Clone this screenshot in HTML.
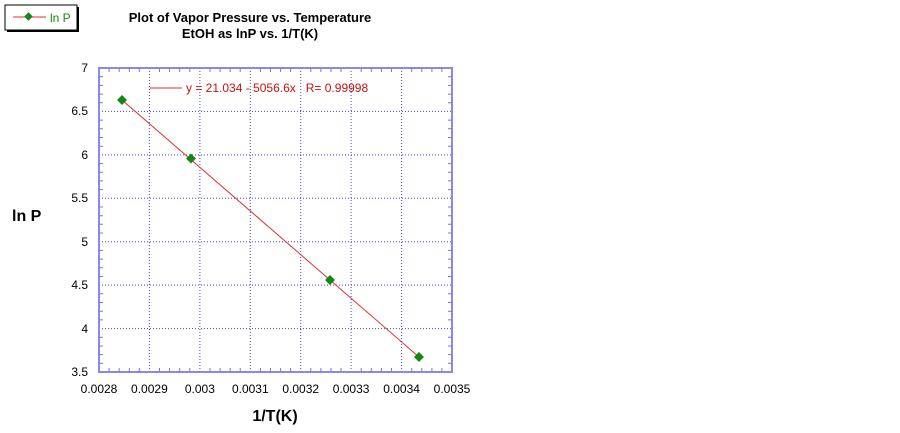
<!DOCTYPE html>
<html><head><style>
html,body{margin:0;padding:0;background:#fff;}
svg{display:block;font-family:"Liberation Sans",Arial,sans-serif;}
</style></head><body>
<svg width="900" height="433" viewBox="0 0 900 433" xmlns="http://www.w3.org/2000/svg">
<rect x="0" y="0" width="900" height="433" fill="#fff"/>
<rect x="7" y="7" width="72" height="25" fill="#000"/>
<rect x="5" y="5" width="72" height="25" fill="#fff" stroke="#000" stroke-width="1"/>
<line x1="13" y1="17" x2="46" y2="17" stroke="#e03030" stroke-width="1"/>
<rect x="25.5" y="13.5" width="6" height="6" fill="#118811" transform="rotate(45 28.5 16.5)"/>
<text x="50" y="22" font-size="12" fill="#118811">ln P</text>
<text x="250" y="22" font-size="13" font-weight="bold" text-anchor="middle">Plot of Vapor Pressure vs. Temperature</text>
<text x="250" y="38" font-size="13" font-weight="bold" text-anchor="middle">EtOH as lnP vs. 1/T(K)</text>
<g stroke="#4444dd" stroke-width="1" stroke-dasharray="1,2">
<line x1="149.4" y1="68" x2="149.4" y2="372"/>
<line x1="199.9" y1="68" x2="199.9" y2="372"/>
<line x1="250.3" y1="68" x2="250.3" y2="372"/>
<line x1="300.7" y1="68" x2="300.7" y2="372"/>
<line x1="351.1" y1="68" x2="351.1" y2="372"/>
<line x1="401.6" y1="68" x2="401.6" y2="372"/>
<line x1="99" y1="111.4" x2="452" y2="111.4"/>
<line x1="99" y1="154.9" x2="452" y2="154.9"/>
<line x1="99" y1="198.3" x2="452" y2="198.3"/>
<line x1="99" y1="241.7" x2="452" y2="241.7"/>
<line x1="99" y1="285.1" x2="452" y2="285.1"/>
<line x1="99" y1="328.6" x2="452" y2="328.6"/>
</g>
<rect x="99" y="68" width="353" height="304" fill="none" stroke="#8888ee" stroke-width="2"/>
<g font-size="12" text-anchor="end">
<text x="88" y="72">7</text><text x="88" y="115">6.5</text><text x="88" y="159">6</text>
<text x="88" y="202">5.5</text><text x="88" y="246">5</text><text x="88" y="289">4.5</text>
<text x="88" y="333">4</text><text x="88" y="376">3.5</text>
</g>
<g font-size="12" text-anchor="middle">
<text x="99" y="393">0.0028</text><text x="149.4" y="393">0.0029</text><text x="199.9" y="393">0.003</text>
<text x="250.3" y="393">0.0031</text><text x="300.7" y="393">0.0032</text><text x="351.1" y="393">0.0033</text>
<text x="401.6" y="393">0.0034</text><text x="452" y="393">0.0035</text>
</g>
<text x="12" y="221" font-size="16" font-weight="bold">ln P</text>
<text x="275" y="421" font-size="16" font-weight="bold" text-anchor="middle">1/T(K)</text>
<line x1="150" y1="88" x2="182" y2="88" stroke="#e03030" stroke-width="1"/>
<text x="186" y="92" font-size="12" fill="#cc1111" xml:space="preserve">y = 21.034 - 5056.6x   R= 0.99998</text>
<line x1="122" y1="100" x2="419" y2="357" stroke="#e03030" stroke-width="1"/>
<g fill="#118811">
<rect x="118.5" y="96.5" width="7" height="7" transform="rotate(45 122 100)"/>
<rect x="187.5" y="155" width="7" height="7" transform="rotate(45 191 158.5)"/>
<rect x="326.5" y="276.5" width="7" height="7" transform="rotate(45 330 280)"/>
<rect x="415.5" y="353.5" width="7" height="7" transform="rotate(45 419 357)"/>
</g>
<g stroke="#7777ee" stroke-width="1">
<path d="M109.1 68v4M119.2 68v4M129.3 68v4M139.3 68v4M159.5 68v4M169.6 68v4M179.7 68v4M189.8 68v4M210 68v4M220.1 68v4M230.2 68v4M240.2 68v4M260.4 68v4M270.5 68v4M280.6 68v4M290.6 68v4M310.8 68v4M320.9 68v4M331 68v4M341 68v4M361.2 68v4M371.3 68v4M381.4 68v4M391.5 68v4M411.7 68v4M421.8 68v4M431.9 68v4M441.9 68v4"/>
<path d="M109.1 372v-4M119.2 372v-4M129.3 372v-4M139.3 372v-4M159.5 372v-4M169.6 372v-4M179.7 372v-4M189.8 372v-4M210 372v-4M220.1 372v-4M230.2 372v-4M240.2 372v-4M260.4 372v-4M270.5 372v-4M280.6 372v-4M290.6 372v-4M310.8 372v-4M320.9 372v-4M331 372v-4M341 372v-4M361.2 372v-4M371.3 372v-4M381.4 372v-4M391.5 372v-4M411.7 372v-4M421.8 372v-4M431.9 372v-4M441.9 372v-4"/>
<path d="M99 76.7h4M99 85.4h4M99 94.1h4M99 102.7h4M99 120.1h4M99 128.8h4M99 137.5h4M99 146.2h4M99 163.6h4M99 172.2h4M99 180.9h4M99 189.6h4M99 207h4M99 215.7h4M99 224.3h4M99 233h4M99 250.4h4M99 259.1h4M99 267.8h4M99 276.5h4M99 293.8h4M99 302.5h4M99 311.2h4M99 319.9h4M99 337.3h4M99 346h4M99 354.6h4M99 363.3h4"/>
<path d="M452 76.7h-4M452 85.4h-4M452 94.1h-4M452 102.7h-4M452 120.1h-4M452 128.8h-4M452 137.5h-4M452 146.2h-4M452 163.6h-4M452 172.2h-4M452 180.9h-4M452 189.6h-4M452 207h-4M452 215.7h-4M452 224.3h-4M452 233h-4M452 250.4h-4M452 259.1h-4M452 267.8h-4M452 276.5h-4M452 293.8h-4M452 302.5h-4M452 311.2h-4M452 319.9h-4M452 337.3h-4M452 346h-4M452 354.6h-4M452 363.3h-4"/>
</g>
</svg>
</body></html>
